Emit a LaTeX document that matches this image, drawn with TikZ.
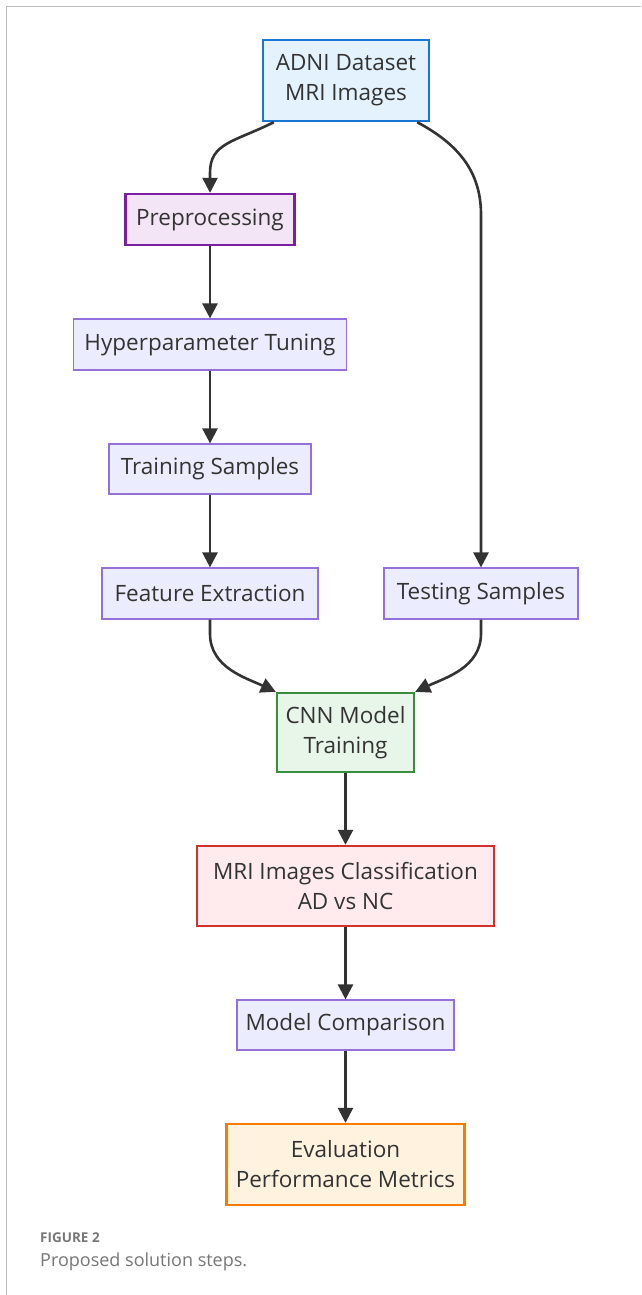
\documentclass[tikz,border=0pt]{standalone}
\usepackage{fontspec}
\setmainfont{Open Sans}
\usetikzlibrary{arrows.meta,calc}

\definecolor{ink}{HTML}{333333}
\definecolor{framegray}{HTML}{BBBBBB}
\definecolor{captiongray}{HTML}{777777}
\definecolor{defstroke}{HTML}{9370DB}
\definecolor{deffill}{HTML}{ECECFF}
\definecolor{bluestroke}{HTML}{1976D2}
\definecolor{bluefill}{HTML}{E3F2FD}
\definecolor{purplestroke}{HTML}{7B1FA2}
\definecolor{purplefill}{HTML}{F3E5F5}
\definecolor{greenstroke}{HTML}{388E3C}
\definecolor{greenfill}{HTML}{E8F5E9}
\definecolor{redstroke}{HTML}{D32F2F}
\definecolor{redfill}{HTML}{FFEBEE}
\definecolor{orangestroke}{HTML}{F57C00}
\definecolor{orangefill}{HTML}{FFF3E0}

\tikzset{
  x=1pt, y=-1pt,
  box/.style={draw=defstroke, fill=deffill, line width=1.2pt, text=ink,
    align=center, inner sep=0pt, font=\fontsize{22.5}{30}\selectfont},
  bluebox/.style={box, draw=bluestroke, fill=bluefill, line width=2.4pt},
  purplebox/.style={box, draw=purplestroke, fill=purplefill, line width=2.4pt},
  greenbox/.style={box, draw=greenstroke, fill=greenfill, line width=2.4pt},
  redbox/.style={box, draw=redstroke, fill=redfill, line width=2.4pt},
  orangebox/.style={box, draw=orangestroke, fill=orangefill, line width=2.4pt},
  flow/.style={draw=ink, line width=2.6pt,
    -{Triangle[length=15pt,width=15pt]}},
}

\begin{document}
\begin{tikzpicture}
\useasboundingbox (0,0) rectangle (641,1295);
\fill[white] (0,0) rectangle (641,1295);

% page frame (top and left rules)
\draw[framegray, line width=1.3pt] (6.5,1295) -- (6.5,6.5) -- (641,6.5);

% steps
\node[bluebox, minimum width=166pt, minimum height=81pt] (adni) at (346,80.5) {ADNI Dataset\\MRI Images};
\node[purplebox, minimum width=169pt, minimum height=51pt] (prep) at (210,219.5) {Preprocessing};
\node[box, minimum width=273pt, minimum height=51pt] (hyper) at (210,344.5) {Hyperparameter Tuning};
\node[box, minimum width=202pt, minimum height=50pt] (train) at (210,469) {Training Samples};
\node[box, minimum width=216pt, minimum height=51pt] (feat) at (210,593.5) {Feature Extraction};
\node[box, minimum width=194pt, minimum height=51pt] (test) at (481,593.5) {Testing Samples};
\node[greenbox, minimum width=137pt, minimum height=79pt] (cnn) at (345.5,732.5) {CNN Model\\Training};
\node[redbox, minimum width=297pt, minimum height=80pt] (cls) at (345.5,886) {MRI Images Classification\\AD vs NC};
\node[box, minimum width=217pt, minimum height=50pt] (comp) at (345.5,1025) {Model Comparison};
\node[orangebox, minimum width=238pt, minimum height=81pt] (eval) at (345.5,1164.5) {Evaluation\\Performance Metrics};

% connectors
\draw[flow] ([xshift=12pt]adni.south west) .. controls +(-40,20) and +(0,-30) .. ([yshift=20pt]prep.north) -- (prep.north);
\draw[flow] ([xshift=-13pt]adni.south east) .. controls +(45,24) and +(0,-40) .. (481,215) -- (test.north);
\draw[flow] (prep.south) -- (hyper.north);
\draw[flow] (hyper.south) -- (train.north);
\draw[flow] (train.south) -- (feat.north);
\draw[flow] (feat.south) -- ++(0,14) .. controls +(0,34) and +(-30,-14) .. (cnn.north west);
\draw[flow] (test.south) -- ++(0,14) .. controls +(0,34) and +(30,-14) .. (cnn.north east);
\draw[flow] (cnn.south) -- (cls.north);
\draw[flow] (cls.south) -- (comp.north);
\draw[flow] (comp.south) -- (eval.north);

% caption
\node[anchor=base west, inner sep=0pt, text=captiongray,
  font=\fontsize{13.5}{16}\selectfont\bfseries] (fig) at (40,1242.5) {FIGURE 2};
\node[anchor=base west, inner sep=0pt, text=captiongray,
  font=\fontsize{18}{22}\selectfont] (cap) at (40,1266.5) {Proposed solution steps.};
\end{tikzpicture}
\end{document}
